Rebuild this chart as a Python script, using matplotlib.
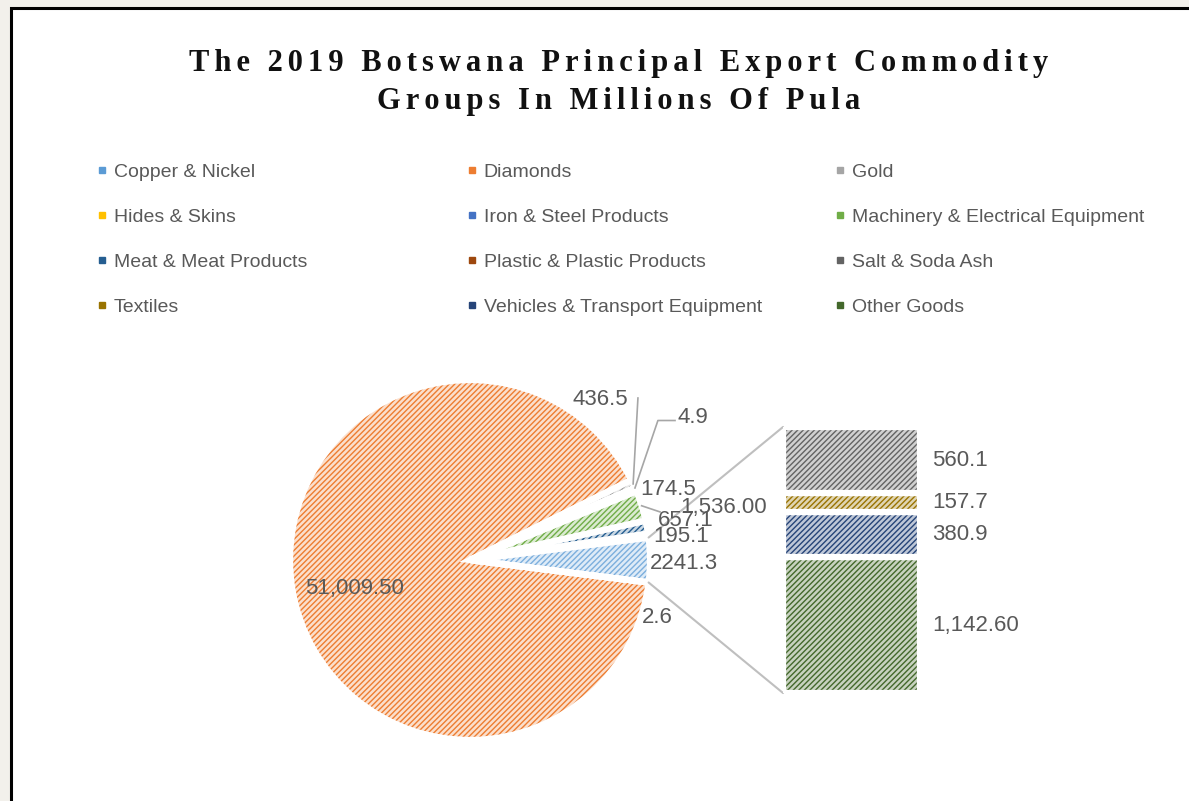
import numpy as np
import matplotlib
matplotlib.use("Agg")
import matplotlib.pyplot as plt
from matplotlib.lines import Line2D
from matplotlib.patches import Rectangle, ConnectionPatch
from matplotlib.colors import to_rgb

# 2019 principal export commodity groups, millions of Pula
categories = ["Copper & Nickel", "Diamonds", "Gold", "Hides & Skins",
              "Iron & Steel Products", "Machinery & Electrical Equipment",
              "Meat & Meat Products", "Plastic & Plastic Products",
              "Salt & Soda Ash", "Textiles", "Vehicles & Transport Equipment",
              "Other Goods"]
pie_values = [2.6, 51009.5, 436.5, 4.9, 174.5, 1536.0, 657.1, 195.1]
bar_values = [560.1, 157.7, 380.9, 1142.6]
pie_labels = ["2.6", "51,009.50", "436.5", "4.9", "174.5", "1,536.00", "657.1", "195.1"]
bar_labels = ["560.1", "157.7", "380.9", "1,142.60"]
other_value = sum(bar_values)
other_label = "2241.3"

colors = ["#5B9BD5", "#ED7D31", "#A5A5A5", "#FFC000", "#4472C4", "#70AD47",
          "#255E91", "#9E480E", "#636363", "#997300", "#264478", "#43682B"]
other_color = "#7CAFDD"

W, H = 1189, 801
plt.rcParams['hatch.linewidth'] = 1.0
label_color = '#595959'
sans = ['Liberation Sans', 'DejaVu Sans']
hatch = '//////'


def tint(c, f=0.25):
    r = np.array(to_rgb(c))
    return tuple(1 - f * (1 - r))


fig = plt.figure(figsize=(W / 100, H / 100), dpi=100)
fig.patch.set_facecolor('#f2f0eb')
# white chart area with black frame (right/bottom edges run off the image)
fig.add_artist(Rectangle((10.5 / W, -0.1), 2, 1.1 - 8.5 / H, transform=fig.transFigure,
                         facecolor='white', edgecolor='black', linewidth=2.2, zorder=-1))

# title, letter-spaced
title_lines = ["The 2019 Botswana Principal Export Commodity", "Groups In Millions Of Pula"]
for line, y in zip(title_lines, [64, 102]):
    fig.text(619 / W, 1 - y / H, "\u200a\u200a".join(line), ha='center', va='center',
             fontsize=22, fontweight='bold', family=['Liberation Serif', 'DejaVu Serif'],
             color='#111111')

# legend, three columns filled row-wise
col_x = [98, 468, 836]
for col in range(3):
    idx = list(range(col, len(categories), 3))
    handles = [Line2D([], [], marker='s', linestyle='none', markersize=4.5,
                      color=colors[i]) for i in idx]
    fig.legend(handles, [categories[i] for i in idx], loc='upper left',
               bbox_to_anchor=(col_x[col] / W, 1 - 163.5 / H), frameon=False,
               borderpad=0, borderaxespad=0, handlelength=0.4, handletextpad=0.4,
               labelspacing=1.40, prop=dict(family=sans, size=14),
               labelcolor=label_color)

# pie of the main groups plus the aggregated slice
R = 180
cx, cy = 470, 560
ax_pie = fig.add_axes([(cx - R) / W, (H - cy - R) / H, 2 * R / W, 2 * R / H])
vals = pie_values + [other_value]
pie_colors = colors[:len(pie_values)] + [other_color]
start = -other_value / sum(vals) * 180

wedges, _ = ax_pie.pie(vals, colors=[tint(c) for c in pie_colors], startangle=start,
                       counterclock=False, wedgeprops=dict(linewidth=0))
for w, c in zip(wedges, pie_colors):
    w.set_edgecolor(c)
    w.set_linewidth(0)
    w.set_hatch(hatch)
ax_pie.pie(vals, colors=['none'] * len(vals), startangle=start, counterclock=False,
           wedgeprops=dict(edgecolor='white', linewidth=4.5))
ax_pie.set_xlim(-1, 1)
ax_pie.set_ylim(-1, 1)
ax_pie.set_aspect('equal')
ax_pie.axis('off')


def mid(w, r=1.0):
    a = np.deg2rad((w.theta1 + w.theta2) / 2)
    return r * np.cos(a), r * np.sin(a)


# label placement (pie radius units)
label_xy = [(0.956, -0.322), (-0.64, -0.156), (0.878, 0.889), (1.155, 0.79),
            (0.944, 0.394), (1.167, 0.294), (1.044, 0.222), (1.017, 0.133)]
label_ha = ['left', 'center', 'right', 'left', 'left', 'left', 'left', 'left']
for txt, (x, y), ha in zip(pie_labels, label_xy, label_ha):
    ax_pie.text(x, y, txt, ha=ha, va='center', fontsize=16, family=sans,
                color=label_color, zorder=5, clip_on=False)
ax_pie.text(1.0, -0.022, other_label, ha='left', va='center', fontsize=16,
            family=sans, color=label_color, zorder=5, clip_on=False)

# leader lines
lc = '#a6a6a6'
gx, gy = mid(wedges[2])
ax_pie.plot([gx, 0.933], [gy, 0.9], color=lc, lw=1.2, clip_on=False, zorder=4)
hx, hy = mid(wedges[3])
ax_pie.plot([hx, 1.044, 1.139], [hy, 0.775, 0.775], color=lc, lw=1.2,
            clip_on=False, zorder=4)
mx, my = mid(wedges[5])
ax_pie.plot([mx, 1.056], [my, 0.267], color=lc, lw=1.2, clip_on=False, zorder=4)

# secondary stacked bar
ax_bar = fig.add_axes([783 / W, (H - 693) / H, 137 / W, 266 / H])
bar_colors = colors[len(pie_values):]
bottom = 0
for v, c, lab in list(zip(bar_values, bar_colors, bar_labels))[::-1]:
    ax_bar.bar(0, v, bottom=bottom, width=1, color=tint(c, 0.3), edgecolor=c,
               linewidth=0, hatch=hatch)
    ax_bar.bar(0, v, bottom=bottom, width=1, color='none', edgecolor='white',
               linewidth=4.5)
    ax_bar.annotate(lab, xy=(0.5, bottom + v / 2), xytext=(12, 0),
                    textcoords='offset pixels', ha='left', va='center',
                    fontsize=16, family=sans, color=label_color,
                    annotation_clip=False)
    bottom += v
ax_bar.set_xlim(-0.5, 0.5)
ax_bar.set_ylim(0, other_value)
ax_bar.axis('off')

# connectors from the aggregated slice to the bar
ow = wedges[-1]
for ang, yb in [(ow.theta2, 1), (ow.theta1, 0)]:
    a = np.deg2rad(ang)
    con = ConnectionPatch(xyA=(np.cos(a), np.sin(a)), coordsA=ax_pie.transData,
                          xyB=(0, yb), coordsB=ax_bar.transAxes,
                          color='#bfbfbf', lw=1.5, zorder=3)
    ax_pie.add_artist(con)
    con.set_clip_on(False)

fig.savefig('out.png', dpi=100, facecolor=fig.get_facecolor())
